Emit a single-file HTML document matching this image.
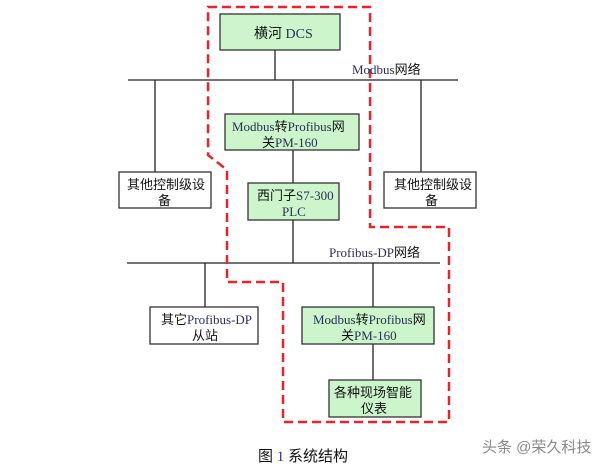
<!DOCTYPE html>
<html><head><meta charset="utf-8"><style>
body{margin:0;background:#fff;}
svg text{font-family:"Liberation Serif","Noto Sans CJK SC",serif;font-size:13px;fill:#111;}
.l{fill:#2a2f55;}
</style></head><body>
<svg width="606" height="468" xmlns="http://www.w3.org/2000/svg">
<g stroke="#222" stroke-width="1.3" fill="none">
<line x1="128" y1="80" x2="458" y2="80"/>
<line x1="275" y1="50" x2="275" y2="80"/>
<line x1="155" y1="80" x2="155" y2="172"/>
<line x1="421" y1="80" x2="421" y2="172"/>
<line x1="293" y1="80" x2="293" y2="114"/>
<line x1="293" y1="150" x2="293" y2="183"/>
<line x1="293" y1="220" x2="293" y2="263"/>
<line x1="127" y1="263" x2="440" y2="263"/>
<line x1="205" y1="263" x2="205" y2="307"/>
<line x1="373" y1="263" x2="373" y2="307"/>
<line x1="373" y1="344" x2="373" y2="380"/>
</g>
<g stroke="#333" stroke-width="1.3">
<rect x="220" y="14" width="120" height="36" fill="#ccf5cc"/>
<rect x="225" y="114" width="134" height="36" fill="#ccf5cc"/>
<rect x="248" y="183" width="91" height="37" fill="#ccf5cc"/>
<rect x="119" y="172" width="92" height="36" fill="#fff"/>
<rect x="384" y="172" width="92" height="36" fill="#fff"/>
<rect x="150" y="307" width="108" height="37" fill="#fff"/>
<rect x="302" y="307" width="132" height="37" fill="#ccf5cc"/>
<rect x="329" y="380" width="92" height="37" fill="#ccf5cc"/>
</g>
<path d="M208,7 L370,7 L370,227 L449,227 L449,422 L283,422 L283,282 L227,282 L227,170 L208,155 Z" fill="none" stroke="#e8232a" stroke-width="2.5" stroke-dasharray="9,5"/>
<text x="254" y="38" style="font-size:14px">横河 <tspan class="l">DCS</tspan></text>
<text x="352" y="74" class="l">Modbus<tspan fill="#111">网络</tspan></text>
<text x="232" y="131" class="l">Modbus<tspan fill="#111">转</tspan>Profibus<tspan fill="#111">网</tspan></text>
<text x="262" y="147">关<tspan class="l">PM-160</tspan></text>
<text x="127" y="189">其他控制级设</text>
<text x="158" y="205">备</text>
<text x="394" y="189">其他控制级设</text>
<text x="425" y="205">备</text>
<text x="257" y="200">西门子<tspan class="l">S7-300</tspan></text>
<text x="282" y="216" class="l">PLC</text>
<text x="329" y="257" class="l">Profibus-DP<tspan fill="#111">网络</tspan></text>
<text x="161" y="324">其它<tspan class="l">Profibus-DP</tspan></text>
<text x="192" y="340">从站</text>
<text x="313" y="324" class="l">Modbus<tspan fill="#111">转</tspan>Profibus<tspan fill="#111">网</tspan></text>
<text x="341" y="340">关<tspan class="l">PM-160</tspan></text>
<text x="334" y="397">各种现场智能</text>
<text x="361" y="413">仪表</text>
<text x="258" y="461" style="font-size:15px">图 <tspan fill="#3a2a88">1</tspan> 系统结构</text>
<text x="482" y="452" style="font-family:'Liberation Sans','Noto Sans CJK SC',sans-serif;font-size:15px;fill:#888">头条 @荣久科技</text>
</svg>
</body></html>
